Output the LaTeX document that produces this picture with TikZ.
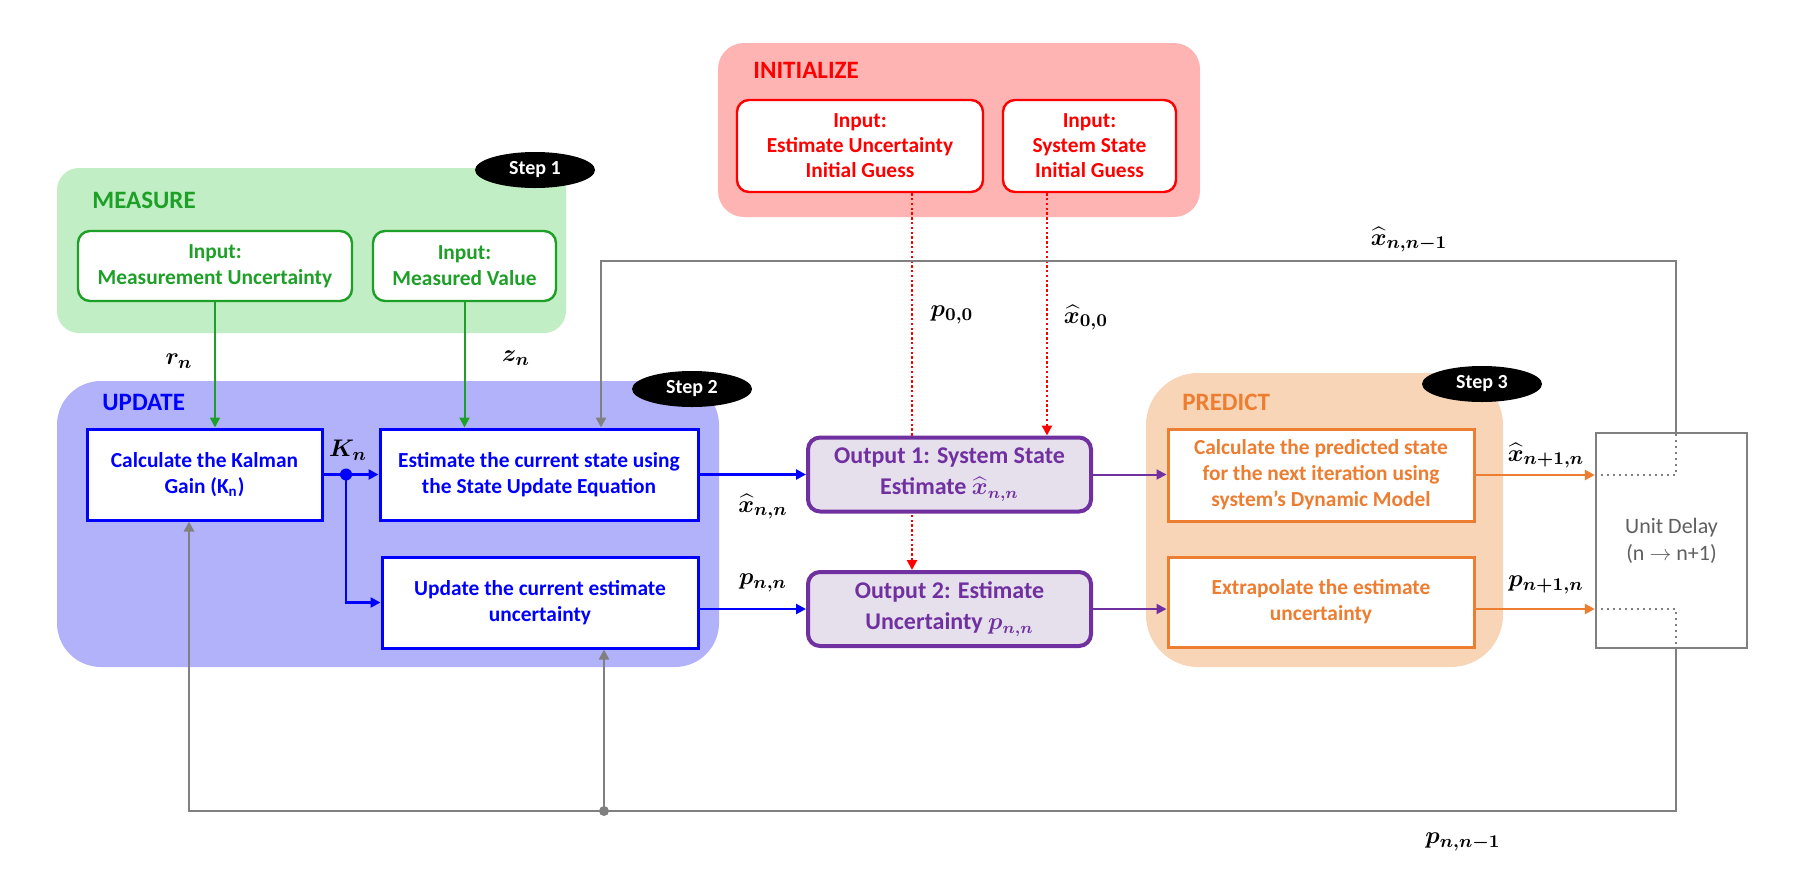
\documentclass[tikz,border=0pt]{standalone}
\usepackage{amsmath}
\usepackage{bm}
\usepackage{fontspec}
\setmainfont{Carlito}
\usetikzlibrary{arrows.meta,shapes.geometric,backgrounds,calc}

\definecolor{measurefill}{RGB}{193,238,196}
\definecolor{measurecol}{RGB}{30,160,40}
\definecolor{initfill}{RGB}{255,180,180}
\definecolor{initcol}{RGB}{255,0,0}
\definecolor{updatefill}{RGB}{178,178,250}
\definecolor{updatecol}{RGB}{0,0,255}
\definecolor{predictfill}{RGB}{248,213,182}
\definecolor{predictcol}{RGB}{237,125,49}
\definecolor{outfill}{RGB}{229,224,236}
\definecolor{outcol}{RGB}{112,48,160}
\definecolor{loopcol}{RGB}{128,128,128}
\definecolor{delaytext}{RGB}{95,95,95}

\begin{document}
\begin{tikzpicture}
      [x=0.5pt,y=-0.5pt,
      boxtext/.style={font=\bfseries\fontsize{10.7}{13}\selectfont,align=center},
      inbox/.style={boxtext,draw,fill=white,line width=1.2pt,rounded corners=6pt,inner sep=0pt},
      stepbox/.style={boxtext,draw,fill=white,line width=1.5pt,inner sep=0pt},
      outbox/.style={font=\bfseries\fontsize{12}{15.5}\selectfont,align=center,draw=outcol,text=outcol,fill=outfill,line width=2pt,rounded corners=6pt,inner sep=0pt,minimum width=141.5pt,minimum height=37pt},
      panel/.style={rounded corners=#1},
      paneltitle/.style={font=\bfseries\fontsize{12.5}{15}\selectfont,anchor=west,inner sep=0pt},
      steptag/.style={ellipse,fill=black,text=white,font=\bfseries\fontsize{10}{12}\selectfont,minimum width=60pt,minimum height=18pt,inner sep=0pt},
      sym/.style={font=\fontsize{13}{15}\selectfont,inner sep=1pt},
      arr/.style={-{Triangle[length=5pt,width=5pt]}},
      mline/.style={measurecol,line width=1pt,arr},
      iline/.style={initcol,line width=1.2pt,dash pattern=on 1.2pt off 1.2pt,arr},
      uline/.style={updatecol,line width=1.4pt,arr},
      oline/.style={outcol,line width=1pt,arr},
      pline/.style={predictcol,line width=1.4pt,arr},
      gline/.style={loopcol,line width=1.2pt}]
      \useasboundingbox (0,0) rectangle (1809,868);

      \node[inbox,draw=measurecol,text=measurecol,minimum width=137pt,minimum height=35pt] (mu) at (215,266) {Input:\\Measurement Uncertainty};
      \node[inbox,draw=measurecol,text=measurecol,minimum width=91.5pt,minimum height=35pt] (mv) at (464.5,266) {Input:\\Measured Value};
      \node[inbox,draw=initcol,text=initcol,minimum width=123pt,minimum height=46pt,font=\bfseries\fontsize{10.7}{12.5}\selectfont] (eu) at (860,146) {Input:\\Estimate Uncertainty\\Initial Guess};
      \node[inbox,draw=initcol,text=initcol,minimum width=86.5pt,minimum height=46pt,font=\bfseries\fontsize{10.7}{12.5}\selectfont] (ss) at (1089.5,146) {Input:\\System State\\Initial Guess};

      \node[stepbox,draw=updatecol,text=updatecol,minimum width=117.5pt,minimum height=45.5pt] (kal) at (204.5,474.5) {Calculate the Kalman\\Gain (K\textsubscript{n})};
      \node[stepbox,draw=updatecol,text=updatecol,minimum width=159pt,minimum height=45.5pt] (est) at (539,474.5) {Estimate the current state using\\the State Update Equation};
      \node[stepbox,draw=updatecol,text=updatecol,minimum width=158pt,minimum height=45.5pt] (upd) at (540,602.5) {Update the current estimate\\uncertainty};

      \node[outbox] (out1) at (949.5,474.5) {Output 1: System State\\Estimate $\bm{\widehat{x}_{n,n}}$};
      \node[outbox] (out2) at (949.5,609) {Output 2: Estimate\\Uncertainty $\bm{p_{n,n}}$};

      \node[stepbox,draw=predictcol,text=predictcol,minimum width=153pt,minimum height=46pt] (pred) at (1321,475) {Calculate the predicted state\\for the next iteration using\\system’s Dynamic Model};
      \node[stepbox,draw=predictcol,text=predictcol,minimum width=153pt,minimum height=45pt] (extr) at (1321,602) {Extrapolate the estimate\\uncertainty};

      \node[draw=loopcol,line width=1.2pt,text=delaytext,font=\fontsize{11}{13.5}\selectfont,align=center,minimum width=75.5pt,minimum height=107.5pt,inner sep=0pt] (delay) at (1671.5,540.5) {Unit Delay\\(n $\rightarrow$ n+1)};

      \node[paneltitle,text=measurecol] (mtitle) at (92,200) {MEASURE};
      \node[paneltitle,text=initcol] (ititle) at (753,70) {INITIALIZE};
      \node[paneltitle,text=updatecol] (utitle) at (102,402) {UPDATE};
      \node[paneltitle,text=predictcol] (ptitle) at (1182,402) {PREDICT};

      \node[steptag] (s1) at (535,170) {Step 1};
      \node[steptag] (s2) at (692,389) {Step 2};
      \node[steptag] (s3) at (1482,384) {Step 3};

      \begin{scope}[on background layer]
        \fill[measurefill,panel=11pt] (57,168) rectangle (566,333);
        \fill[initfill,panel=13pt] (718,43) rectangle (1200,217);
        \fill[updatefill,panel=22pt] (57,381) rectangle (719,667);
        \fill[predictfill,panel=26pt] (1146,373) rectangle (1503,667);
        \draw[iline] ([xshift=26pt]eu.south) -- ([xshift=26pt]eu.south |- out2.north);
      \end{scope}
      \draw[iline] ([xshift=-21.25pt]ss.south) -- ([xshift=-21.25pt]ss.south |- out1.north);

      \draw[mline] (mu.south) -- (mu.south |- kal.north);
      \draw[mline] (mv.south) -- (mv.south |- est.north);

      \coordinate (kdot) at ($(kal.east)!0.41!(est.west)$);
      \draw[uline] (kal.east) -- (est.west);
      \draw[uline] (kdot) |- (upd.west);
      \fill[updatecol] (kdot) circle (3pt);
      \draw[uline] (est.east) -- (out1.west);
      \draw[uline] (upd.east |- out2.west) -- (out2.west);

      \draw[oline] (out1.east) -- (out1.east -| pred.west);
      \draw[oline] (out2.east) -- (out2.east -| extr.west);

      \draw[pline] (pred.east) -- (pred.east -| delay.west);
      \draw[pline] (extr.east |- out2) -- (delay.west |- out2);

      \coordinate (dtop) at ([xshift=2.25pt]delay.north);
      \coordinate (dbot) at ([xshift=2.25pt]delay.south);
      \coordinate (topleft) at (601,261);
      \coordinate (botleft) at (189,811);
      \coordinate (botmid) at (604,811);
      \draw[loopcol,line width=1pt,dotted] (pred.east -| delay.west) -| (dtop);
      \draw[loopcol,line width=1pt,dotted] (delay.west |- out2) -| (dbot);
      \draw[gline,arr] (dtop) -- (dtop |- topleft) -- (topleft) -- (topleft |- est.north);
      \draw[gline,arr] (dbot) -- (dbot |- botleft) -- (botleft) -- (botleft |- kal.south);
      \draw[gline,arr] (botmid) -- (botmid |- upd.south);
      \fill[loopcol] (botmid) circle (2.5pt);

      \node[sym] (rn) at (179,361) {$\bm{r_n}$};
      \node[sym] (zn) at (516,358) {$\bm{z_n}$};
      \node[sym] (kn) at (348,450) {$\bm{K_n}$};
      \node[sym] (p00) at (952,315) {$\bm{p_{0,0}}$};
      \node[sym] (x00) at (1086,318) {$\bm{\widehat{x}_{0,0}}$};
      \node[sym] (xnn) at (763,507) {$\bm{\widehat{x}_{n,n}}$};
      \node[sym] (pnn) at (763,583) {$\bm{p_{n,n}}$};
      \node[sym] (xn1n) at (1546,456) {$\bm{\widehat{x}_{n+1,n}}$};
      \node[sym] (pn1n) at (1546,585) {$\bm{p_{n+1,n}}$};
      \node[sym] (xnnm) at (1409,240) {$\bm{\widehat{x}_{n,n-1}}$};
      \node[sym] (pnnm) at (1463,842) {$\bm{p_{n,n-1}}$};
    \end{tikzpicture}
\end{document}
